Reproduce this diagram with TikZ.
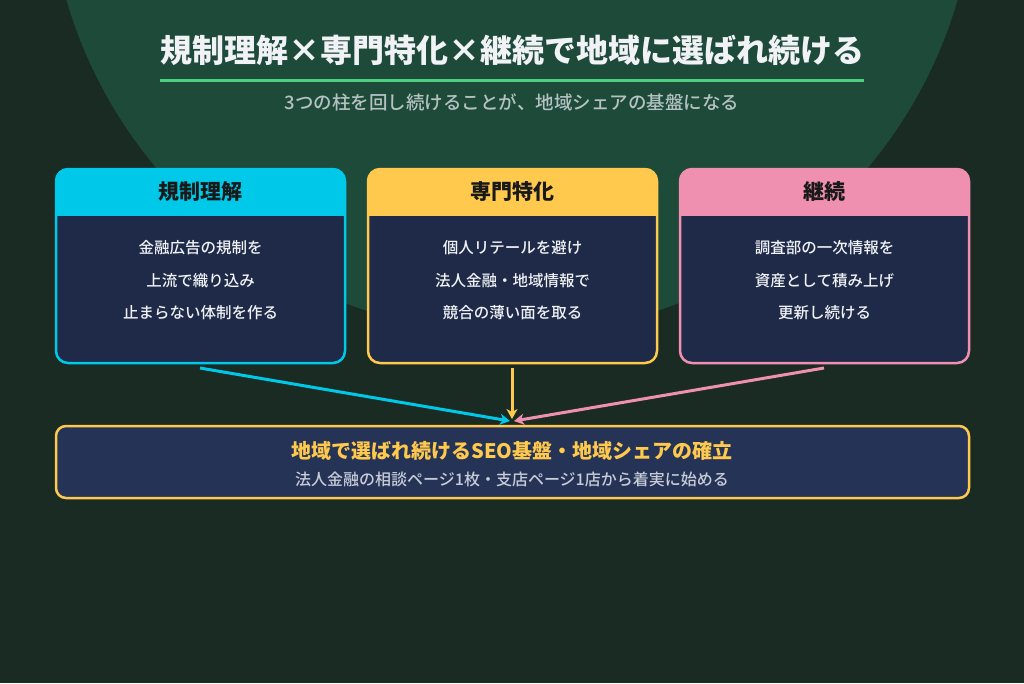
\documentclass[tikz,border=0pt]{standalone}
\usepackage{fontspec}
\setmainfont{Noto Sans CJK JP}[BoldFont={Noto Sans CJK JP Bold}]
\newfontfamily\jpmed{Noto Sans CJK JP Medium}
\newfontfamily\jpblack{Noto Sans CJK JP Black}
\usetikzlibrary{arrows.meta}
\definecolor{bgC}{HTML}{1A2B24}
\definecolor{circC}{HTML}{1E4A3A}
\definecolor{navyC}{HTML}{1E2A47}
\definecolor{navyB}{HTML}{243356}
\definecolor{cyanC}{HTML}{00C8E8}
\definecolor{yelC}{HTML}{FFC94D}
\definecolor{pinkC}{HTML}{F090B0}
\definecolor{greenC}{HTML}{4CD080}
\definecolor{subC}{HTML}{B4C2C2}
\definecolor{txtC}{HTML}{F0F2F5}
\definecolor{sub2C}{HTML}{C8CCD8}
\begin{document}
\begin{tikzpicture}[x=1pt,y=-1pt,
  card/.style={draw=#1, fill=navyC, line width=2.5pt, rounded corners=12pt,
    minimum width=289pt, minimum height=194pt, inner sep=0pt,
    path picture={\fill[#1, sharp corners] (path picture bounding box.north west) rectangle ([yshift=-47pt]path picture bounding box.north east);}},
  headtxt/.style={font=\jpblack\fontsize{21pt}{24pt}\selectfont, text=black!90, inner sep=0pt},
  bodytxt/.style={font=\jpmed\fontsize{15.5pt}{18pt}\selectfont, text=txtC, inner sep=0pt},
  conn/.style={line width=3pt, draw=#1, -{Stealth[length=10pt,width=11pt,inset=3pt]}}
]
\useasboundingbox (0,0) rectangle (1024,683);
\fill[bgC] (0,0) rectangle (1024,683);
\fill[circC] (512,-130) circle[radius=464];

% title
\node[font=\jpblack\fontsize{32pt}{36pt}\selectfont, text=txtC, inner sep=0pt] (title) at (512,50) {規制理解×専門特化×継続で地域に選ばれ続ける};
\draw[greenC, line width=3pt] (160,80) -- (864,80);
\node[font=\jpmed\fontsize{18.5pt}{22pt}\selectfont, text=subC, inner sep=0pt] (subtitle) at (512,102) {3つの柱を回し続けることが、地域シェアの基盤になる};

% cards
\node[card=cyanC] (c1) at (200.5,266) {};
\node[card=yelC] (c2) at (512.5,266) {};
\node[card=pinkC] (c3) at (824.5,266) {};

\node[headtxt] (h1) at (200.5,192) {規制理解};
\node[headtxt] (h2) at (512.5,192) {専門特化};
\node[headtxt] (h3) at (824.5,192) {継続};

\node[bodytxt] (b1a) at (200.5,248) {金融広告の規制を};
\node[bodytxt] (b1b) at (200.5,281) {上流で織り込み};
\node[bodytxt] (b1c) at (200.5,313) {止まらない体制を作る};
\node[bodytxt] (b2a) at (512.5,248) {個人リテールを避け};
\node[bodytxt] (b2b) at (512.5,281) {法人金融・地域情報で};
\node[bodytxt] (b2c) at (512.5,313) {競合の薄い面を取る};
\node[bodytxt] (b3a) at (824.5,248) {調査部の一次情報を};
\node[bodytxt] (b3b) at (824.5,281) {資産として積み上げ};
\node[bodytxt] (b3c) at (824.5,313) {更新し続ける};

% bottom box
\node[draw=yelC, fill=navyB, line width=2.5pt, rounded corners=10pt, minimum width=913pt, minimum height=72pt, inner sep=0pt] (goal) at (512.5,462) {};
\node[font=\jpblack\fontsize{20pt}{23pt}\selectfont, text=yelC, inner sep=0pt] (gt) at (512,451) {地域で選ばれ続けるSEO基盤・地域シェアの確立};
\node[font=\jpmed\fontsize{16pt}{19pt}\selectfont, text=sub2C, inner sep=0pt] (gs) at (512,479) {法人金融の相談ページ1枚・支店ページ1店から着実に始める};

% connectors
\coordinate (s1) at (200,368);
\coordinate (s2) at (512,368);
\coordinate (s3) at (824,368);
\coordinate (t1) at (510,421);
\coordinate (t2) at (512,419);
\coordinate (t3) at (514,421);
\draw[conn=yelC] (s2) -- (t2);
\draw[conn=cyanC] (s1) -- (t1);
\draw[conn=pinkC] (s3) -- (t3);
\end{tikzpicture}
\end{document}
